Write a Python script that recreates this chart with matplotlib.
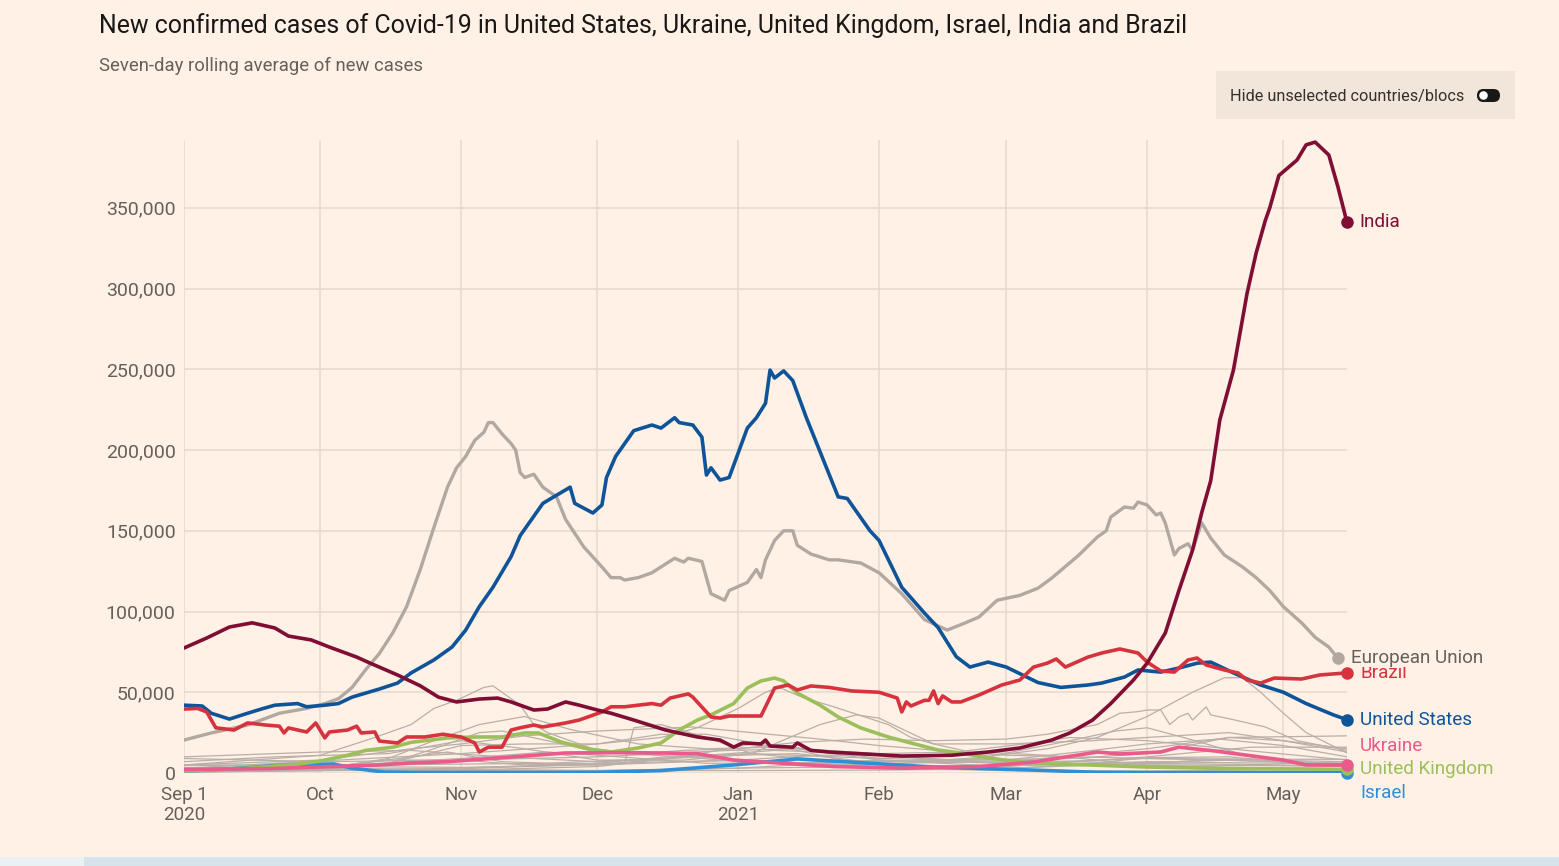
import numpy as np
import pandas as pd
import matplotlib
matplotlib.use("Agg")
import matplotlib.pyplot as plt
from matplotlib.patches import Rectangle, FancyBboxPatch, Circle

plt.rcParams['font.family'] = ['Roboto', 'DejaVu Sans']

START = pd.Timestamp("2020-09-01")
END_DAY = 256

# seven-day average of new cases, thousands; x = days since 1 Sep 2020
india_days = [0, 5, 10, 15, 20, 23, 28, 32, 38, 41, 47, 52, 56, 60, 65, 69, 72, 77, 80, 84, 87, 91, 94, 99,
              106, 113, 118, 121, 123, 127, 128, 129, 134, 135, 138, 142, 158, 169, 177, 184, 191, 195, 200,
              204, 209, 212, 216, 219, 222, 224, 226, 228, 231, 234, 236, 238, 239, 241, 245, 247, 249, 252,
              254, 256]
india_k = [77.4, 83.6, 90.4, 93, 89.8, 84.8, 82.4, 78, 71.8, 68, 60.7, 54, 47, 44, 45.8, 46.4, 44, 39, 39.6, 44,
           42, 39, 37, 32.8, 26.6, 22.3, 20.4, 16, 18.6, 18, 20.4, 16.7, 16, 18.6, 14, 13, 10.5, 11, 13, 15.5,
           20.4, 24.8, 32.8, 43, 57.6, 68, 86.7, 113, 138, 161, 181, 218.6, 249.5, 297, 322, 342, 350, 370,
           379.6, 389, 390.7, 382.7, 363, 341]

us_days = [0, 4, 6, 10, 14, 17, 20, 25, 27, 31, 34, 37, 43, 47, 50, 55, 59, 62, 65, 68, 72, 74, 79, 85, 86, 90,
           92, 93, 95, 99, 103, 105, 108, 109, 112, 114, 115, 116, 118, 120, 124, 126, 128, 129, 130, 132, 134,
           137, 140, 144, 146, 151, 153, 158, 163, 166, 170, 173, 177, 181, 188, 193, 199, 202, 207, 210, 215,
           219, 223, 226, 231, 237, 242, 247, 253, 256]
us_k = [42, 41.5, 37, 33.4, 37, 39.6, 42, 43, 41, 42, 43, 47, 52, 55.7, 62, 70, 78, 88.5, 103, 115, 134, 147,
        167, 177, 167, 161, 166, 183, 196, 212, 215.5, 213.6, 220, 217, 215.5, 208, 184.5, 189, 181.4, 183,
        213.6, 220, 229, 249.5, 244.6, 249, 243, 220, 199, 171, 170, 150, 144, 115, 99, 90, 72, 65.6, 68.7,
        65.6, 56, 53, 54.5, 55.7, 59.4, 63.8, 62.5, 65, 68, 68.7, 62, 54.5, 50, 43, 36, 33]

brazil_days = [0, 3, 5, 7, 11, 14, 18, 21, 22, 23, 27, 29, 31, 32, 36, 38, 39, 42, 43, 47, 49, 53, 57, 61, 64,
               65, 67, 70, 72, 74, 77, 79, 84, 87, 92, 94, 97, 103, 105, 107, 111, 112, 116, 118, 120, 127, 128,
               130, 133, 135, 138, 142, 147, 153, 157, 158, 159, 160, 163, 164, 165, 166, 167, 169, 171, 175,
               180, 184, 187, 190, 192, 194, 199, 202, 206, 210, 212, 215, 218, 221, 223, 225, 229, 232, 234,
               237, 240, 246, 250, 256]
brazil_k = [39.6, 40, 37.8, 28, 26.6, 31, 29.7, 29, 24.8, 27.9, 25.4, 31, 21.7, 25.4, 26.6, 29, 24.8, 25.4,
            19.8, 18.6, 22.3, 22.3, 24, 22.3, 18.6, 13, 16, 16, 26.6, 28, 29.7, 28.5, 31, 32.8, 37.8, 41, 41, 43,
            42, 46.4, 49, 47, 34.7, 34, 35.3, 35.3, 41, 52.6, 54.5, 51.4, 53.9, 53, 50.8, 50, 46.4, 37.8, 44,
            41.5, 45, 45, 50.8, 43, 47.7, 44, 44, 48.3, 54.5, 57.6, 65.6, 68, 70.6, 65.6, 71.8, 74.3, 76.8, 74.3,
            68.7, 63.2, 62.5, 70, 71.2, 66.9, 63.8, 62, 57.6, 55.7, 58.8, 58.2, 60.7, 62]

uk_days = [0, 14, 25, 30, 36, 40, 46, 50, 58, 64, 70, 75, 78, 83, 89, 94, 100, 105, 109, 113, 116, 121, 124,
           127, 130, 132, 135, 140, 144, 149, 155, 160, 166, 171, 177, 184, 191, 199, 206, 212, 230, 256]
uk_k = [1.2, 3, 5.5, 7.4, 11, 14, 16, 19, 21.7, 22.3, 22.3, 24.8, 24.8, 19.2, 14.9, 13, 15.5, 18.6, 26.6,
        32.8, 36, 43, 52.6, 57, 58.8, 57, 49.5, 42, 34.7, 27.9, 22.3, 18.6, 14.2, 12.4, 9.3, 6.8, 5.6, 5, 4.3,
        3.7, 2.8, 2.3]

ukraine_days = [0, 20, 35, 43, 50, 58, 72, 84, 96, 105, 113, 121, 143, 158, 175, 187, 201, 206, 215, 219,
                227, 234, 242, 247, 256]
ukraine_k = [2.2, 2.8, 4.2, 5, 6.2, 7, 9.9, 12.4, 12.6, 12.4, 12, 8, 4, 3, 4, 6.8, 13, 11.8, 13, 16, 13.6, 11,
             8, 5, 5]

israel_days = [0, 10, 22, 33, 37, 44, 51, 80, 91, 105, 121, 135, 150, 165, 187, 201, 220, 256]
israel_k = [1.2, 2.5, 5, 5.6, 3, 0.6, 0.3, 0.3, 0.4, 1.5, 5, 8.7, 6.2, 3.7, 1.8, 0.4, 0.2, 0.1]

eu_days = [0, 6, 14, 21, 27, 31, 34, 37, 40, 43, 46, 49, 52, 55, 58, 60, 62, 64, 66, 67, 68, 70, 72, 73, 74,
           75, 77, 79, 82, 84, 88, 92, 94, 96, 97, 100, 103, 108, 110, 111, 114, 115, 116, 119, 120, 124, 126,
           127, 128, 130, 132, 134, 135, 138, 142, 144, 149, 153, 158, 163, 168, 172, 175, 179, 184, 188, 191,
           197, 201, 203, 204, 207, 209, 210, 212, 214, 215, 216, 218, 219, 221, 222, 224, 226, 229, 233, 236,
           239, 242, 246, 249, 252, 254]
eu_k = [20.4, 24.8, 29.7, 37, 40, 43, 46, 53, 64, 74, 87, 103, 126, 152, 177, 189, 196, 206, 211, 217, 217,
        210, 204, 200, 186, 183, 185, 177, 171, 157, 140, 127.6, 121, 121, 119.5, 121, 124, 133, 130.6, 133,
        131, 121, 111, 107, 113, 118, 126, 121, 132, 144, 150, 150, 141, 135.6, 132, 132, 130, 124, 111, 95,
        88.5, 93, 96.6, 107, 110, 114.5, 120.7, 135, 146, 150, 158.5, 164.7, 164, 167.8, 166, 159.8, 161,
        154.8, 135, 139, 142, 138, 155, 145.5, 135, 127.6, 121, 113, 103, 93, 84, 78, 71]

# other countries, drawn as thin grey lines
france_days = [0, 20, 30, 42, 50, 55, 60, 66, 68, 71, 74, 77, 80, 90, 100, 110, 122, 135, 150, 165, 181, 190,
               201, 206, 210, 212, 215, 217, 219, 221, 222, 225, 226, 231, 238, 245, 256]
france_k = [5, 9, 11, 22, 30, 40, 45, 53, 54, 48, 42, 30, 25, 15, 12, 14, 15, 19, 21, 20, 21, 24, 30, 37, 38,
            39, 39, 30, 34.7, 37, 32.8, 41, 36, 33, 28.5, 20, 14]
turkey_days = [0, 30, 60, 85, 97, 99, 105, 115, 125, 140, 160, 175, 190, 201, 212, 222, 229, 233, 237, 242,
               247, 256]
turkey_k = [1.5, 1.6, 2.5, 5, 6, 28, 30, 22, 12, 8, 7, 9.5, 15, 22, 35, 50, 59, 59, 50, 37, 25, 12.4]
russia_days = [0, 30, 50, 61, 75, 91, 112, 125, 140, 153, 170, 181, 212, 242, 256]
russia_k = [5, 8, 15, 18, 23, 26, 28.5, 25, 21, 17, 13, 11, 9, 8.5, 8.5]
germany_days = [0, 30, 45, 61, 75, 91, 105, 115, 125, 140, 153, 170, 181, 200, 212, 228, 242, 256]
germany_k = [1.3, 2.5, 6, 17, 18, 18, 24, 24, 19, 14, 9, 8, 8, 14, 18, 21, 17, 10]
italy_days = [0, 30, 45, 55, 65, 75, 85, 100, 115, 130, 153, 170, 185, 195, 212, 230, 256]
italy_k = [1.5, 2.5, 9, 20, 30, 35, 27, 18, 15, 16, 12, 13, 18, 22, 20, 15, 8]
spain_days = [0, 20, 45, 61, 75, 91, 110, 125, 140, 148, 153, 165, 181, 212, 242, 256]
spain_k = [7, 10, 12, 20, 15, 8, 8, 12, 30, 36, 34, 18, 8, 6, 5, 4]
poland_days = [0, 30, 45, 55, 65, 70, 80, 91, 110, 122, 153, 175, 195, 205, 212, 220, 235, 256]
poland_k = [0.6, 1.5, 6, 15, 25, 26, 20, 13, 10, 7, 5, 9, 20, 26, 28, 22, 10, 4]
colombia_days = [0, 30, 61, 91, 120, 135, 153, 181, 212, 235, 256]
colombia_k = [9, 7, 8, 10, 14, 15, 8, 4, 10, 16, 16]
argentina_days = [0, 30, 50, 70, 91, 122, 135, 153, 181, 212, 230, 256]
argentina_k = [10, 13, 14, 10, 7, 11, 12, 6, 7, 15, 22, 23]
mexico_days = [0, 40, 80, 105, 130, 150, 170, 200, 230, 256]
mexico_k = [5, 5, 6, 9, 14, 12, 7, 5, 3.5, 2.5]
iran_days = [0, 30, 61, 80, 91, 115, 140, 170, 195, 212, 230, 242, 256]
iran_k = [2.2, 3.8, 9, 13, 11, 6, 6.5, 8, 9, 12, 22, 20, 13]
czechia_days = [0, 30, 50, 58, 70, 91, 110, 125, 153, 175, 190, 212, 242, 256]
czechia_k = [0.4, 3, 10, 13, 7, 5, 10, 12, 9, 13, 11, 5, 2, 1.5]
safrica_days = [0, 30, 61, 91, 110, 125, 135, 153, 181, 212, 242, 256]
safrica_k = [2.5, 1.5, 1.8, 4, 10, 18, 14, 3, 1.5, 1.2, 2, 2.8]
indonesia_days = [0, 30, 61, 91, 122, 140, 153, 170, 181, 212, 242, 256]
indonesia_k = [2.8, 4, 3.5, 5, 8, 11, 11, 8, 6, 5, 4.5, 4]
netherlands_days = [0, 30, 45, 61, 75, 91, 110, 125, 153, 181, 212, 230, 256]
netherlands_k = [0.6, 3, 8, 8, 5, 6, 11, 7, 4, 4.5, 6.5, 8, 5]
canada_days = [0, 30, 61, 91, 115, 125, 153, 181, 212, 228, 256]
canada_k = [0.5, 1.5, 3, 6, 7.5, 8, 3.5, 3, 6, 8.5, 7]
peru_days = [0, 30, 61, 91, 122, 153, 181, 212, 242, 256]
peru_k = [5, 3, 2, 1.5, 3, 8, 6, 9, 7, 6]
philippines_days = [0, 30, 61, 91, 122, 153, 181, 200, 212, 230, 242, 256]
philippines_k = [3.5, 2.5, 2, 1.5, 1.5, 1.8, 2.5, 6, 9.5, 10, 7, 6]
chile_days = [0, 61, 91, 122, 153, 181, 212, 242, 256]
chile_k = [2, 1.5, 1.5, 3, 4, 4.5, 7, 6, 5.5]
other_days = [0, 61, 91, 105, 113, 122, 128, 131, 136, 143, 155, 160, 165, 181, 200, 212, 230, 242, 256]
other_k = [3, 12, 18, 22, 28, 40, 50, 53, 47, 41, 30, 22, 18, 18, 20, 22, 25, 20, 15]

grey_series = [(france_days, france_k), (turkey_days, turkey_k), (russia_days, russia_k),
               (germany_days, germany_k), (italy_days, italy_k), (spain_days, spain_k),
               (poland_days, poland_k), (colombia_days, colombia_k), (argentina_days, argentina_k),
               (mexico_days, mexico_k), (iran_days, iran_k), (czechia_days, czechia_k),
               (safrica_days, safrica_k), (indonesia_days, indonesia_k), (netherlands_days, netherlands_k),
               (canada_days, canada_k), (peru_days, peru_k), (philippines_days, philippines_k),
               (chile_days, chile_k), (other_days, other_k)]

month_days = [0, 30, 61, 91, 122, 153, 181, 212, 242]
month_labels = ["Sep 1\n2020", "Oct", "Nov", "Dec", "Jan\n2021", "Feb", "Mar", "Apr", "May"]
y_ticks = [0, 50000, 100000, 150000, 200000, 250000, 300000, 350000]

BG = "#fff1e5"
GRID = "#e6d9ce"
TICK = "#66605c"


def to_dates(days):
    return START + pd.to_timedelta(np.asarray(days), unit="D")


fig = plt.figure(figsize=(15.59, 8.66), dpi=100, facecolor=BG)

# page furniture drawn in pixel space
deco = fig.add_axes([0, 0, 1, 1], zorder=0)
deco.set_xlim(0, 1559)
deco.set_ylim(866, 0)
deco.axis("off")
deco.add_patch(Rectangle((84, 857), 1475, 9, color="#d5e3ea", lw=0))
deco.add_patch(Rectangle((0, 857), 84, 9, color="#eaf1f3", lw=0))
deco.add_patch(Rectangle((1216, 71), 299, 48, color="#f2e5da", lw=0))
deco.text(1230, 96, "Hide unselected countries/blocs", fontsize=11.7, color="#33302e", va="center")
deco.add_patch(FancyBboxPatch((1477, 89), 23, 13, boxstyle="round,pad=0,rounding_size=6.5",
                              fc="#1a1817", ec="none"))
deco.add_patch(Circle((1483.5, 95.5), 5.2, fc="white", ec="#1a1817", lw=1.3))
deco.text(99, 26, "New confirmed cases of Covid-19 in United States, Ukraine, United Kingdom, Israel, India and Brazil",
          fontsize=17.9, color="#1a1817", va="center")
deco.text(99, 66, "Seven-day rolling average of new cases", fontsize=13.3, color=TICK, va="center")

ax = fig.add_axes([184 / 1559, 93 / 866, 1163 / 1559, 633 / 866], zorder=1)
ax.set_facecolor("none")
ax.set_xlim(to_dates([0])[0], to_dates([END_DAY])[0])
ax.set_ylim(0, 392000)

for days, vals in grey_series:
    ax.plot(to_dates(days), np.array(vals) * 1000, color="#b9afa8", lw=0.9, zorder=2)

ax.plot(to_dates(eu_days), np.array(eu_k) * 1000, color="#b1a8a1", lw=2.4, zorder=3)

highlight = [
    ("Israel", israel_days, israel_k, "#2f8fd6"),
    ("United Kingdom", uk_days, uk_k, "#9bc05b"),
    ("Ukraine", ukraine_days, ukraine_k, "#ea5a8c"),
    ("United States", us_days, us_k, "#0f5499"),
    ("Brazil", brazil_days, brazil_k, "#d7333f"),
    ("India", india_days, india_k, "#800d33"),
]
for name, days, vals, col in highlight:
    ax.plot(to_dates(days), np.array(vals) * 1000, color=col, lw=2.6, zorder=4,
            solid_joinstyle="round", solid_capstyle="round")

# end dots and labels (offsets in pixels)
label_offsets = {"India": (12, 0), "Brazil": (13, 0), "United States": (13, 0),
                 "Ukraine": (13, 19), "United Kingdom": (13, 0), "Israel": (13, -20)}
for name, days, vals, col in highlight:
    x_end, y_end = to_dates([days[-1]])[0], vals[-1] * 1000
    ax.plot(x_end, y_end, "o", color=col, ms=8, zorder=6, clip_on=False)
    ax.annotate(name, (x_end, y_end), xytext=label_offsets[name], textcoords="offset pixels",
                fontsize=13.6, color=col, va="center", ha="left", zorder=7, annotation_clip=False)

eu_end = to_dates([eu_days[-1]])[0]
ax.plot(eu_end, eu_k[-1] * 1000, "o", color="#b1a8a1", ms=8, zorder=5, clip_on=False)
ax.annotate("European Union", (eu_end, eu_k[-1] * 1000), xytext=(13, 0), textcoords="offset pixels",
            fontsize=13.6, color=TICK, va="center", ha="left", zorder=8, annotation_clip=False,
            bbox=dict(boxstyle="square,pad=0", fc=BG, ec="none"))

ax.set_xticks(to_dates(month_days))
ax.set_xticklabels(month_labels)
ax.set_yticks(y_ticks)
ax.set_yticklabels([f"{v:,}" for v in y_ticks])
ax.tick_params(axis="both", length=0, labelcolor=TICK)
ax.tick_params(axis="x", pad=9, labelsize=13.5)
ax.tick_params(axis="y", pad=6, labelsize=14)
ax.grid(True, color=GRID, lw=1.1, zorder=0)
ax.set_axisbelow(True)
for s in ax.spines.values():
    s.set_visible(False)

fig.savefig("out.png", dpi=100, facecolor=BG)
